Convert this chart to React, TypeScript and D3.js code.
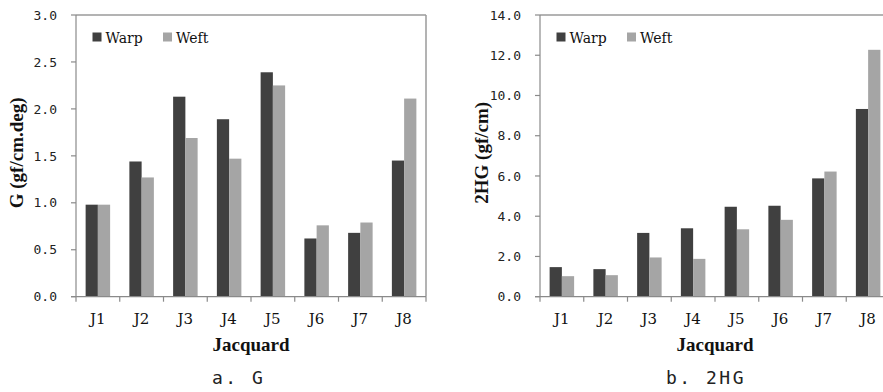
import React from "react";
import * as d3 from "d3";

const categories = ["J1", "J2", "J3", "J4", "J5", "J6", "J7", "J8"];
const seriesNames = ["Warp", "Weft"];
const gWarp = [0.98, 1.44, 2.13, 1.89, 2.39, 0.62, 0.68, 1.45];
const gWeft = [0.98, 1.27, 1.69, 1.47, 2.25, 0.76, 0.79, 2.11];
const hgWarp = [1.47, 1.37, 3.17, 3.4, 4.47, 4.52, 5.88, 9.33];
const hgWeft = [1.02, 1.07, 1.95, 1.88, 3.35, 3.82, 6.22, 12.27];
const gTicks = [0, 0.5, 1.0, 1.5, 2.0, 2.5, 3.0];
const hgTicks = [0, 2, 4, 6, 8, 10, 12, 14];
const colors = ["#404040", "#a5a5a5"];

type PanelProps = {
  left: number;
  warp: number[];
  weft: number[];
  yMax: number;
  ticks: number[];
  yTitle: string;
  yTitleX: number;
  caption: string;
  captionX: number;
};

const TOP = 15;
const BOTTOM = 296.7;
const WIDTH = 350;

function Panel({ left, warp, weft, yMax, ticks, yTitle, yTitleX, caption, captionX }: PanelProps) {
  const right = left + WIDTH;
  const x = d3.scaleBand<string>().domain(categories).range([left, right]).paddingInner(0.44).paddingOuter(0.22);
  const step = x.step();
  const inner = d3.scaleBand<string>().domain(seriesNames).range([0, x.bandwidth()]);
  const y = d3.scaleLinear().domain([0, yMax]).range([BOTTOM, TOP]);
  const data = [warp, weft];
  const boundaries = d3.range(categories.length + 1).map((i) => left + i * step);
  const axisColor = "#8a8a8a";
  return (
    <g>
      {/* plot border top & right */}
      <line x1={left} x2={right} y1={TOP} y2={TOP} stroke="#9a9a9a" strokeWidth={1.5} />
      <line x1={right} x2={right} y1={TOP} y2={BOTTOM} stroke="#9a9a9a" strokeWidth={1.5} />
      {/* bars */}
      {data.map((vals, si) =>
        categories.map((c, i) => (
          <rect
            key={`${si}-${c}`}
            x={(x(c) as number) + (inner(seriesNames[si]) as number)}
            width={inner.bandwidth()}
            y={y(vals[i])}
            height={BOTTOM - y(vals[i])}
            fill={colors[si]}
          />
        ))
      )}
      {/* y axis */}
      <line x1={left} x2={left} y1={TOP} y2={BOTTOM} stroke={axisColor} strokeWidth={1.2} />
      {ticks.map((t) => (
        <g key={t}>
          <line x1={left - 5} x2={left} y1={y(t)} y2={y(t)} stroke={axisColor} strokeWidth={1.2} />
          <text
            x={left - 19}
            y={y(t)}
            dy="0.36em"
            textAnchor="end"
            fontFamily="DejaVu Sans Mono"
            fontSize={13}
            fill="#222"
          >
            {d3.format(".1f")(t)}
          </text>
        </g>
      ))}
      {/* x axis */}
      <line x1={left - 5} x2={right} y1={BOTTOM} y2={BOTTOM} stroke={axisColor} strokeWidth={1.2} />
      {boundaries.map((b, i) => (
        <line key={i} x1={b} x2={b} y1={BOTTOM} y2={BOTTOM + 5} stroke={axisColor} strokeWidth={1.2} />
      ))}
      {categories.map((c) => (
        <text
          key={c}
          x={(x(c) as number) + x.bandwidth() / 2}
          y={324}
          textAnchor="middle"
          fontFamily="DejaVu Serif"
          fontSize={15}
          fill="#111"
        >
          {c}
        </text>
      ))}
      <text
        x={left + WIDTH / 2}
        y={351}
        textAnchor="middle"
        fontFamily="Liberation Serif"
        fontWeight="bold"
        fontSize={19}
        fill="#111"
      >
        Jacquard
      </text>
      <text
        transform={`translate(${yTitleX},${(TOP + BOTTOM) / 2 - 3}) rotate(-90)`}
        dy="0.3em"
        textAnchor="middle"
        fontFamily="Liberation Serif"
        fontWeight="bold"
        fontSize={19}
        fill="#111"
      >
        {yTitle}
      </text>
      {/* legend */}
      {seriesNames.map((s, i) => {
        const lx = left + 16.5 + i * 70.5;
        return (
          <g key={s}>
            <rect x={lx} y={32.5} width={9} height={9} fill={colors[i]} />
            <text x={lx + 13} y={43} fontFamily="DejaVu Serif" fontSize={14} fill="#111">
              {s}
            </text>
          </g>
        );
      })}
      {/* caption */}
      <text
        x={captionX}
        y={384}
        fontFamily="DejaVu Sans Mono"
        fontSize={18}
        letterSpacing="2.5px"
        fill="#222"
        style={{ whiteSpace: "pre" }}
      >
        {caption}
      </text>
    </g>
  );
}

export default function App() {
  return (
    <svg
      width={883}
      height={392}
      style={{ position: "absolute", left: 0, top: 0, background: "#fff" }}
    >
      <rect x={0} y={0} width={883} height={392} fill="#fff" />
      <Panel
        left={76}
        warp={gWarp}
        weft={gWeft}
        yMax={3}
        ticks={gTicks}
        yTitle="G (gf/cm.deg)"
        yTitleX={17.5}
        caption="a. G"
        captionX={212}
      />
      <Panel
        left={540}
        warp={hgWarp}
        weft={hgWeft}
        yMax={14}
        ticks={hgTicks}
        yTitle="2HG (gf/cm)"
        yTitleX={482}
        caption="b. 2HG"
        captionX={666}
      />
    </svg>
  );
}
